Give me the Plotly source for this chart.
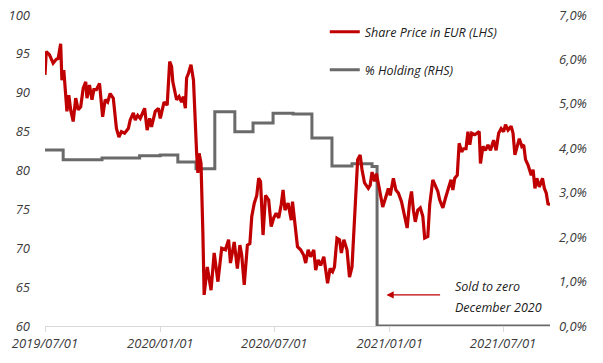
import plotly.graph_objects as go

# Share price (EUR, left axis)
price_dates = [
    "2019-07-01","2019-07-03","2019-07-08","2019-07-14","2019-07-19","2019-07-22","2019-07-26","2019-07-28","2019-07-31",
    "2019-08-05","2019-08-08","2019-08-11","2019-08-15","2019-08-19","2019-08-23","2019-08-27","2019-08-31",
    "2019-09-04","2019-09-06","2019-09-10","2019-09-14","2019-09-17","2019-09-21","2019-09-26",
    "2019-10-01","2019-10-05","2019-10-09","2019-10-13","2019-10-18","2019-10-23","2019-10-27","2019-10-31",
    "2019-11-05","2019-11-11","2019-11-14","2019-11-19","2019-11-22","2019-11-26","2019-11-30",
    "2019-12-07","2019-12-11","2019-12-15","2019-12-18","2019-12-24","2019-12-29",
    "2020-01-01","2020-01-07","2020-01-12","2020-01-16","2020-01-19","2020-01-21","2020-01-27","2020-01-31",
    "2020-02-04","2020-02-07","2020-02-10","2020-02-12","2020-02-15","2020-02-19","2020-02-23","2020-02-28",
    "2020-03-01","2020-03-03","2020-03-06","2020-03-09","2020-03-11","2020-03-16","2020-03-22","2020-03-27",
    "2020-04-02","2020-04-08","2020-04-14","2020-04-19","2020-04-22","2020-04-28",
    "2020-05-03","2020-05-07","2020-05-10","2020-05-14","2020-05-19","2020-05-23","2020-05-26","2020-05-30",
    "2020-06-03","2020-06-06","2020-06-09","2020-06-13","2020-06-17","2020-06-22","2020-06-26","2020-06-30",
    "2020-07-04","2020-07-08","2020-07-12","2020-07-15","2020-07-18","2020-07-23","2020-07-28","2020-07-30",
    "2020-08-03","2020-08-07","2020-08-12","2020-08-17","2020-08-20","2020-08-24","2020-08-28",
    "2020-09-02","2020-09-05","2020-09-09","2020-09-13","2020-09-18","2020-09-24","2020-09-28",
    "2020-10-02","2020-10-05","2020-10-09","2020-10-13","2020-10-16","2020-10-20","2020-10-25","2020-10-29",
    "2020-11-02","2020-11-07","2020-11-11","2020-11-15","2020-11-18","2020-11-22","2020-11-28",
    "2020-12-01","2020-12-04","2020-12-08","2020-12-11","2020-12-16","2020-12-21","2020-12-26","2020-12-30",
    "2021-01-02","2021-01-07","2021-01-11","2021-01-15","2021-01-20","2021-01-25","2021-01-29",
    "2021-02-02","2021-02-05","2021-02-08","2021-02-11","2021-02-15","2021-02-19","2021-02-23","2021-02-26",
    "2021-03-03","2021-03-06","2021-03-11","2021-03-15","2021-03-19","2021-03-22","2021-03-27","2021-03-31",
    "2021-04-04","2021-04-09","2021-04-12","2021-04-15","2021-04-19","2021-04-22","2021-04-26","2021-04-29",
    "2021-05-03","2021-05-06","2021-05-09","2021-05-12","2021-05-17","2021-05-21","2021-05-24","2021-05-26","2021-05-30",
    "2021-06-03","2021-06-07","2021-06-11","2021-06-16","2021-06-20","2021-06-24","2021-06-28",
    "2021-07-02","2021-07-05","2021-07-09","2021-07-14","2021-07-17","2021-07-20","2021-07-23","2021-07-27","2021-07-31",
    "2021-08-03","2021-08-06","2021-08-10","2021-08-15","2021-08-18","2021-08-21","2021-08-24","2021-08-28",
    "2021-09-02","2021-09-05","2021-09-08","2021-09-11","2021-09-14",
]
price_values = [
    92.3,95.3,94.9,93.8,94.3,94.4,96.3,91.6,92.9,
    87.6,89.7,87.8,86.3,89.3,87.8,88.2,90.6,
    91.4,89.3,91.0,89.1,90.4,90.4,91.2,
    86.9,89.1,88.8,89.9,89.3,85.4,84.3,85.0,
    84.8,85.4,86.5,87.4,86.5,87.1,86.7,
    88.0,85.2,86.7,85.6,87.6,88.0,
    86.7,88.8,88.4,94.0,93.4,91.4,89.1,89.5,
    88.8,89.5,88.0,91.9,92.5,93.6,91.6,82.2,
    79.7,82.2,80.9,71.9,64.0,67.6,64.6,69.4,
    65.7,70.0,69.8,71.1,68.1,70.8,
    67.4,70.4,69.1,65.3,70.4,70.6,74.1,75.8,
    76.8,79.0,78.6,71.7,76.8,76.2,72.8,73.9,
    74.5,73.9,75.6,77.5,74.9,75.8,73.6,76.0,
    72.8,70.2,69.8,69.1,68.1,69.8,68.9,
    69.8,67.2,68.5,67.8,68.9,65.5,67.4,
    67.0,67.6,71.3,71.1,69.4,71.1,69.8,66.3,
    67.6,75.3,81.4,82.0,80.1,78.4,77.7,
    78.1,79.8,78.6,79.6,77.5,75.3,76.6,77.7,
    76.8,79.0,77.5,77.1,76.0,74.1,72.6,
    76.0,77.3,74.9,73.4,74.9,75.2,74.1,71.3,
    71.5,75.6,78.8,78.1,77.3,76.2,75.2,76.4,
    77.5,78.8,77.5,79.0,79.4,83.5,82.4,82.8,
    82.8,85.0,83.3,84.8,84.6,84.8,85.0,80.9,83.1,
    82.6,83.3,82.6,83.9,82.6,84.8,85.4,
    85.0,85.9,85.2,85.7,84.8,82.0,83.1,84.1,83.1,
    83.3,81.4,80.7,79.4,80.1,77.7,79.0,77.9,
    79.0,77.7,77.1,75.6,75.8,
]

# % holding (right axis), step series
holding_dates = [
    "2019-07-01","2019-07-30","2019-09-30","2019-11-29","2020-01-01","2020-01-29","2020-02-27",
    "2020-03-28","2020-04-29","2020-05-28","2020-06-29","2020-07-31","2020-08-30","2020-10-01",
    "2020-11-02","2020-12-04","2020-12-12","2021-09-14",
]
holding_values = [
    3.96,3.74,3.78,3.83,3.85,3.69,3.54,
    4.82,4.37,4.57,4.79,4.77,4.23,3.60,
    3.65,3.59,0.0,0.0,
]

left_ticks = [60, 65, 70, 75, 80, 85, 90, 95, 100]
right_ticks = [0, 1, 2, 3, 4, 5, 6, 7]
right_tick_text = ["0,0%", "1,0%", "2,0%", "3,0%", "4,0%", "5,0%", "6,0%", "7,0%"]

RED = "#C00000"
GREY = "#6A6A6A"
TXT = "#3A3A3A"
FONT = "Open Sans"

fig = go.Figure()
fig.add_trace(go.Scatter(
    x=holding_dates, y=holding_values, mode="lines", line_shape="hv",
    line=dict(color=GREY, width=3), name="% Holding (RHS)", yaxis="y",
    legend="legend2",
))
fig.add_trace(go.Scatter(
    x=price_dates, y=price_values, mode="lines",
    line=dict(color=RED, width=3.2), name="Share Price in EUR (LHS)", yaxis="y2",
    legend="legend",
))

tick_font = dict(family=FONT, size=13, color=TXT, style="italic")
leg_font = dict(family=FONT, size=12.5, color="#202020", style="italic")

fig.update_layout(
    width=603, height=363,
    margin=dict(l=45, r=53, t=15, b=37, autoexpand=False),
    paper_bgcolor="white", plot_bgcolor="white",
    font=dict(family=FONT, size=13, color=TXT, style="italic"),
    xaxis=dict(
        type="date", range=["2019-07-01", "2021-09-14"],
        tick0="2019-07-01", dtick="M6", tickformat="%Y/%m/%d", tickangle=0,
        showgrid=False, zeroline=False, automargin=False,
        showline=True, linecolor="#D9D9D9", linewidth=1,
        ticks="outside", ticklen=5, tickcolor="#D9D9D9",
        tickfont=tick_font,
    ),
    yaxis=dict(
        side="right", range=[0, 7], tickvals=right_ticks, ticktext=right_tick_text,
        showgrid=False, zeroline=False, showline=False, automargin=False,
        ticklabelstandoff=8, tickfont=tick_font,
    ),
    yaxis2=dict(
        side="left", overlaying="y", range=[60, 100], tickvals=left_ticks,
        showgrid=False, zeroline=False, showline=False, automargin=False,
        ticklabelstandoff=14, tickfont=tick_font,
    ),
    legend=dict(
        x=0.554, y=0.945, xanchor="left", yanchor="middle",
        bgcolor="rgba(0,0,0,0)", font=leg_font, itemwidth=30,
    ),
    legend2=dict(
        x=0.554, y=0.823, xanchor="left", yanchor="middle",
        bgcolor="rgba(0,0,0,0)", font=leg_font, itemwidth=30,
    ),
    showlegend=True,
)

fig.add_annotation(
    x="2020-12-27", y=64.0, xref="x", yref="y2",
    ax="2021-03-25", ay=64.0, axref="x", ayref="y2",
    text="", showarrow=True, arrowhead=2, arrowsize=1.2, arrowwidth=1.2,
    arrowcolor=RED,
)
fig.add_annotation(
    x=0.808, y=0.1286, xref="paper", yref="paper", xanchor="left", yanchor="middle",
    text="Sold to zero", showarrow=False, font=leg_font,
)
fig.add_annotation(
    x=0.808, y=0.061, xref="paper", yref="paper", xanchor="left", yanchor="middle",
    text="December 2020", showarrow=False, font=leg_font,
)

fig.write_html(
    "out.html",
    config={"displayModeBar": False},
    post_script="document.body.style.margin='0';",
)
